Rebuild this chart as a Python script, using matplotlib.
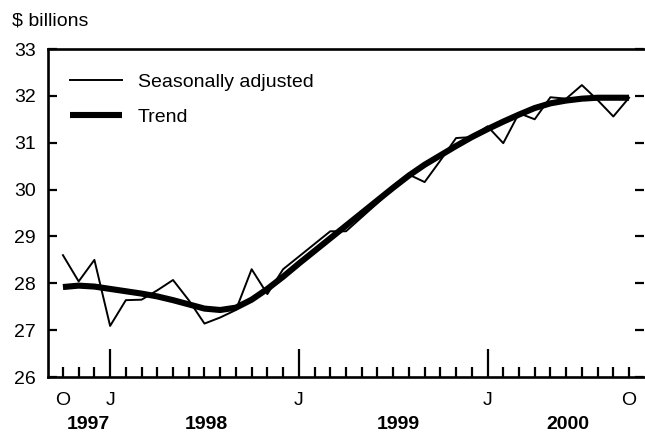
import numpy as np
import matplotlib
matplotlib.use("Agg")
import matplotlib.pyplot as plt
import matplotlib.transforms as mtransforms

plt.rcParams['font.family'] = ['Liberation Sans', 'DejaVu Sans']

# monthly, Oct 1997 .. Oct 2000 (index 0 = Oct 1997)
seasonal = [28.60, 28.04, 28.50, 27.09, 27.64, 27.65, 27.85, 28.07, 27.64, 27.14,
            27.27, 27.43, 28.30, 27.77, 28.30, 28.57, 28.84, 29.11, 29.11, 29.41,
            29.71, 30.02, 30.32, 30.16, 30.62, 31.10, 31.12, 31.35, 30.99, 31.63,
            31.50, 31.97, 31.94, 32.23, 31.91, 31.56, 31.96]
trend = [27.92, 27.95, 27.93, 27.88, 27.83, 27.78, 27.72, 27.64, 27.55, 27.46,
         27.43, 27.48, 27.65, 27.88, 28.14, 28.42, 28.69, 28.96, 29.23, 29.50,
         29.77, 30.04, 30.30, 30.53, 30.73, 30.93, 31.12, 31.29, 31.45, 31.60,
         31.74, 31.84, 31.90, 31.94, 31.96, 31.96, 31.96]
month_letters = ['O', 'N', 'D', 'J', 'F', 'M', 'A', 'M', 'J', 'J', 'A', 'S'] * 4
labelled = {0: 'O', 3: 'J', 15: 'J', 27: 'J', 36: 'O'}
years = ['1997', '1998', '1999', '2000']
year_pos = [1.6, 9.1, 21.3, 32.1]

months = np.arange(len(seasonal))
fs = 14

fig = plt.figure(figsize=(6.45, 4.34), dpi=100)
ax = fig.add_axes([48/645, 57/434, 596/645, 328/434])

ax.plot(months, trend, color='black', lw=4.4, solid_capstyle='butt', label='Trend', zorder=2)
ax.plot(months, seasonal, color='black', lw=1.4, label='Seasonally adjusted', zorder=3)

ax.set_xlim(-0.95, 36.95)
ax.set_ylim(26, 33)

# x ticks: Jan long, other months short
jan = [m for m in months if month_letters[m] == 'J' and m in labelled]
other = [m for m in months if m not in jan]
ax.set_xticks(jan, labels=['J'] * len(jan))
ax.set_xticks(other, labels=[labelled.get(m, '') for m in other], minor=True)
ax.tick_params(axis='x', which='major', direction='in', length=20, width=1.6, pad=11, labelsize=fs)
ax.tick_params(axis='x', which='minor', direction='in', length=7, width=1.6, pad=11, labelsize=fs)

ax.set_yticks(range(26, 34))
ax.tick_params(axis='y', which='major', direction='in', length=6.5, width=1.6, pad=9,
               labelsize=fs, right=True)

for side in ['left', 'top', 'bottom']:
    ax.spines[side].set_linewidth(1.9)
ax.spines['right'].set_visible(False)

trans = mtransforms.blended_transform_factory(ax.transData, ax.transAxes)
for yr, xp in zip(years, year_pos):
    ax.text(xp, -0.145, yr, transform=trans, ha='center', va='center',
            fontsize=fs, fontweight='bold')

fig.text(12/645, 1 - 21/434, '\\$ billions', ha='left', va='center', fontsize=fs)

handles, labels = ax.get_legend_handles_labels()
ax.legend(handles[::-1], labels[::-1], loc='upper left', bbox_to_anchor=(0.037, 0.927),
          frameon=False, borderpad=0, borderaxespad=0, handlelength=2.67,
          handletextpad=0.82, labelspacing=0.91, fontsize=fs)

fig.savefig('out.png', dpi=100)
